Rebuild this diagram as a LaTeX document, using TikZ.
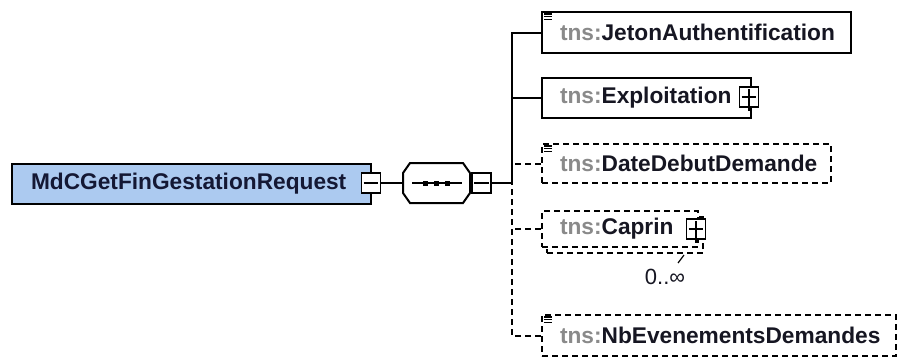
\documentclass[tikz,border=0pt]{standalone}
\usepackage{fontspec}
\setmainfont{Liberation Sans}
\pgfdeclarelayer{bg}
\pgfsetlayers{bg,main}
\definecolor{bluefill}{RGB}{172,202,240}
\definecolor{shadowgray}{RGB}{196,196,196}
\definecolor{nsgray}{RGB}{138,138,138}
\definecolor{txt}{RGB}{22,22,34}
\definecolor{roottxt}{RGB}{20,24,52}
\tikzset{
  elbox/.style={draw=black, fill=white, rectangle, line width=2pt, inner xsep=18pt, inner ysep=0pt,
    align=left, font=\fontsize{22.7pt}{27pt}\selectfont\bfseries, text=txt, anchor=north west},
  optbox/.style={elbox, dash pattern=on 6pt off 4pt},
  pmbox/.style={draw=black, fill=white, rectangle, line width=1.8pt, inner sep=0pt, minimum width=19pt, minimum height=20pt},
  shad/.style={fill=shadowgray},
  conn/.style={line width=2pt},
  optconn/.style={line width=2pt, dash pattern=on 6pt off 4pt},
  ico/.style={line width=1.3pt},
}
\newcommand{\ns}{\textcolor{nsgray}{tns:}}
\begin{document}
\begin{tikzpicture}[x=1pt,y=-1pt,line width=2pt]
\useasboundingbox (0,0) rectangle (898,359);
\fill[white] (0,0) rectangle (898,359);

% root element
\node[elbox, fill=bluefill, text=roottxt, inner xsep=19pt, minimum height=40pt, text width=321pt] (root) at (11,163) {MdCGetFinGestationRequest};
\node[pmbox] (rootm) at (371,183) {};
\draw[line width=1.5pt] ([xshift=3pt]rootm.west) -- ([xshift=-3pt]rootm.east);

% sequence compositor
\node[minimum width=67pt, minimum height=40pt, inner sep=0pt] (seq) at (436.5,183) {};
\draw[fill=white] (403,173) -- (410,163) -- (463,163) -- (470,173) -- (470,193) -- (463,203) -- (410,203) -- (403,193) -- cycle;
\draw[line width=1.5pt] (412,183) -- (462,183);
\fill (423,180.5) rectangle +(5,5);
\fill (434,180.5) rectangle +(5,5);
\fill (445,180.5) rectangle +(5,5);
\node[pmbox] (seqm) at (481.5,183) {};
\draw[line width=1.5pt] ([xshift=3pt]seqm.west) -- ([xshift=-3pt]seqm.east);
\coordinate (branch) at (512,183);

% children
\node[elbox, minimum height=41pt, text width=273pt] (jeton) at (541,11) {\ns JetonAuthentification};
\node[elbox, minimum height=40pt, text width=173pt] (expl) at (541,77) {\ns Exploitation};
\node[pmbox] (explp) at (749,97) {};
\draw[line width=1.5pt] ([xshift=3pt]explp.west) -- ([xshift=-3pt]explp.east) (explp.north) ++(0,3) -- ([yshift=-3pt]explp.south);
\node[optbox, minimum height=39pt, text width=253pt] (date) at (541,143) {\ns DateDebutDemande};
\node[optbox, minimum height=36pt, minimum width=156pt] (caprinback) at (546,216) {};
\node[optbox, minimum height=36pt, text width=120pt] (caprin) at (541,210) {\ns Caprin};
\node[pmbox] (caprinp) at (696,229) {};
\draw[line width=1.5pt] ([xshift=3pt]caprinp.west) -- ([xshift=-3pt]caprinp.east) (caprinp.north) ++(0,3) -- ([yshift=-3pt]caprinp.south);
\node[font=\fontsize{22pt}{26pt}\selectfont, text=txt, inner sep=0pt] (card) at (665,277) {0..∞};
\draw[line width=1.2pt] (684,255) -- (678,263);
\node[optbox, minimum height=41pt, text width=318pt] (nb) at (541,314) {\ns NbEvenementsDemandes};

% documentation icons
\foreach \n in {jeton,date,nb}{
  \draw[ico] ([shift={(3,3)}]\n.north west) -- +(8,0);
  \draw[ico] ([shift={(3,5.7)}]\n.north west) -- +(8,0);
  \draw[ico] ([shift={(3,8.4)}]\n.north west) -- +(8,0);
}

% shadows
\begin{pgfonlayer}{bg}
\fill[shad] ([shift={(7,8)}]root.north west) rectangle ([shift={(7,8)}]root.south east);
\fill[shad] (410,171) -- (417,171) -- (470,171) -- (477,181) -- (477,201) -- (470,211) -- (417,211) -- (410,201) -- cycle;
\fill[shad] ([shift={(8,8)}]jeton.north west) rectangle ([shift={(8,8)}]jeton.south east);
\fill[shad] ([shift={(8,8)}]expl.north west) rectangle ([shift={(8,8)}]expl.south east);
\fill[shad] ([shift={(8,8)}]date.north west) rectangle ([shift={(8,8)}]date.south east);
\fill[shad] ([shift={(8,9)}]caprinback.north west) rectangle ([shift={(7,9)}]caprinback.south east);
\fill[shad] ([shift={(8,8)}]nb.north west) rectangle ([shift={(8,8)}]nb.south east);
\end{pgfonlayer}

% connectors
\draw[conn] (rootm.east) -- (seq.west);
\draw[conn] (seqm.east) -- (branch);
\draw[conn] (jeton.west) -| (branch);
\draw[conn] (expl.west) -- (expl.west -| branch);
\draw[optconn] (date.west) -- (date.west -| branch);
\draw[optconn] (caprin.west) -- (caprin.west -| branch);
\draw[optconn] (nb.west) -| (branch);
\end{tikzpicture}
\end{document}
